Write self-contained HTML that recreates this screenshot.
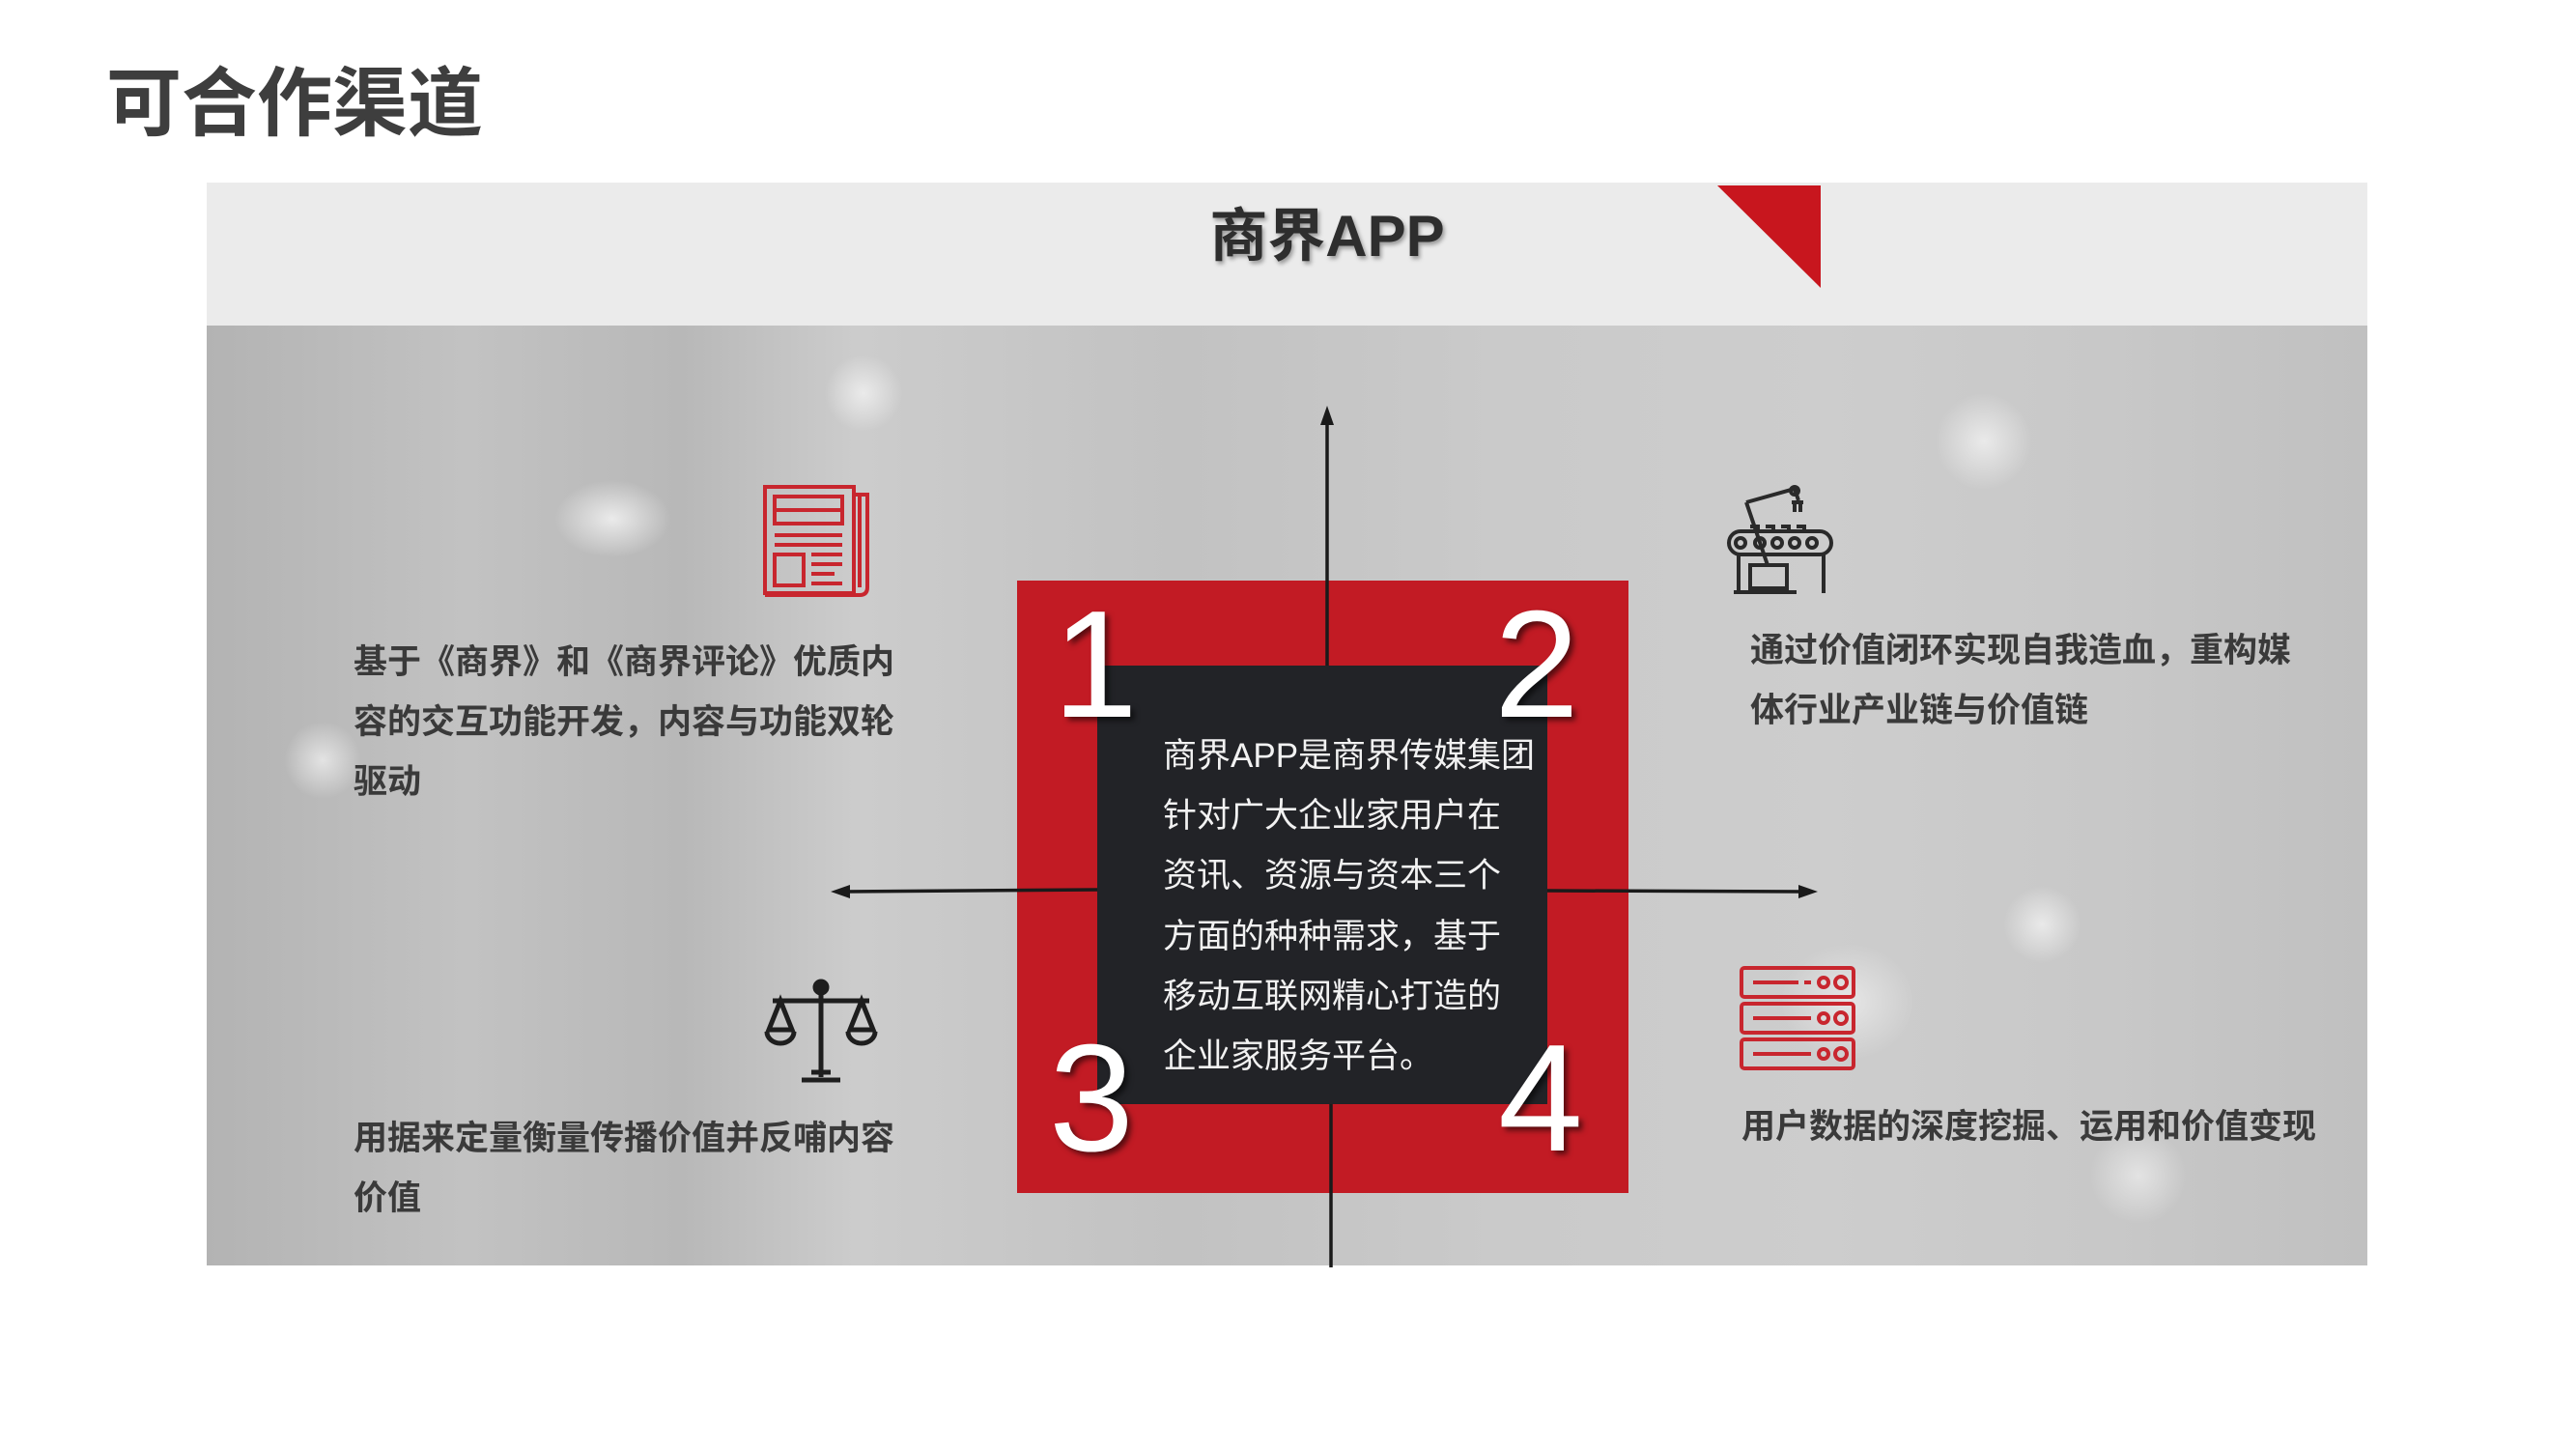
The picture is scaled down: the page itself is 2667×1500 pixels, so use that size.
<!DOCTYPE html>
<html><head><meta charset="utf-8"><style>
*{margin:0;padding:0;box-sizing:border-box}
body{width:2667px;height:1500px;background:#fff;position:relative;overflow:hidden;font-family:"Liberation Sans","Noto Sans CJK SC",sans-serif}
.a{position:absolute}
.title{left:110px;top:68px;font-size:78px;font-weight:bold;color:#3e3e3e;line-height:1}
.panel{left:214px;top:189px;width:2237px;height:1121px;overflow:hidden;background:#c4c4c4}
.hdr{left:214px;top:189px;width:2237px;height:148px;background:#ebebeb}
.bg{left:0;top:148px;width:2237px;height:973px;
background:
radial-gradient(ellipse 60px 40px at 420px 200px,rgba(255,255,255,.7),transparent),
radial-gradient(ellipse 40px 40px at 680px 70px,rgba(255,255,255,.6),transparent),
radial-gradient(ellipse 50px 50px at 1840px 120px,rgba(255,255,255,.6),transparent),
radial-gradient(ellipse 40px 40px at 1900px 620px,rgba(255,255,255,.6),transparent),
radial-gradient(ellipse 70px 60px at 1700px 700px,rgba(255,255,255,.5),transparent),
radial-gradient(ellipse 40px 40px at 120px 450px,rgba(255,255,255,.6),transparent),
radial-gradient(ellipse 50px 50px at 2000px 880px,rgba(255,255,255,.5),transparent),
linear-gradient(90deg,#b3b3b3 0,#c2c2c2 12%,#b8b8b8 22%,#cccccc 30%,#c2c2c2 45%,#cacaca 60%,#cdcdcd 75%,#c8c8c8 88%,#c0c0c0 100%);}
.lt{font-size:35px;font-weight:bold;color:#3a3a3a;line-height:62px;white-space:nowrap}
.num{font-size:158px;color:#fff;line-height:1;text-shadow:4px 4px 6px rgba(0,0,0,.55)}
.ct{left:1204px;top:752px;font-size:35px;color:#f2f2f2;line-height:62.2px;white-space:nowrap}
</style></head><body>
<div class="a title">可合作渠道</div>
<div class="a panel"><div class="a bg"></div></div>
<div class="a hdr"></div>
<div class="a" style="left:1214px;top:196px;width:320px;text-align:center;font-size:60px;font-weight:bold;color:#2e2e2e;text-shadow:2px 3px 4px rgba(0,0,0,.35)">商界APP</div>
<svg class="a" style="left:0;top:0" width="2667" height="1500">
<polygon points="1778,192 1885,192 1885,298" fill="#c8161e"/>
<rect x="1053" y="601" width="633" height="634" fill="#c21b24"/>
<rect x="1136" y="689" width="466" height="454" fill="#222327"/>
<g stroke="#1a1a1a" stroke-width="3.5" fill="#1a1a1a">
<line x1="1374" y1="432" x2="1374" y2="689"/>
<line x1="1378" y1="1143" x2="1378" y2="1312"/>
<polygon points="1374,420 1367,440 1381,440" stroke="none"/>
<line x1="872" y1="923" x2="1136" y2="921"/>
<polygon points="860,923 880,916 880,930" stroke="none"/>
<line x1="1602" y1="922" x2="1868" y2="923"/>
<polygon points="1882,923 1862,916 1862,930" stroke="none"/>
</g>
<g fill="none" stroke="#c8262e" stroke-width="4">
<rect x="792" y="504" width="92" height="110"/>
<path d="M884,512 h14 v96 q0,8 -8,8 h-98"/><line x1="890" y1="512" x2="890" y2="608"/>
<rect x="802" y="514" width="70" height="28"/><line x1="802" y1="528" x2="872" y2="528"/>
<line x1="802" y1="554" x2="872" y2="554"/><line x1="802" y1="564" x2="872" y2="564"/>
<rect x="802" y="574" width="30" height="32"/>
<line x1="840" y1="574" x2="872" y2="574"/><line x1="840" y1="584" x2="872" y2="584"/><line x1="840" y1="594" x2="864" y2="594"/><line x1="840" y1="604" x2="872" y2="604"/>
</g>
<g fill="none" stroke="#2a2a2a" stroke-width="4">
<rect x="1790" y="550" width="106" height="24" rx="12"/>
<circle cx="1802" cy="562" r="5"/><circle cx="1822" cy="562" r="5"/><circle cx="1840" cy="562" r="5"/><circle cx="1858" cy="562" r="5"/><circle cx="1876" cy="562" r="5"/>
<line x1="1808" y1="520" x2="1830" y2="585"/><path d="M1808,520 L1858,506 L1862,518"/>
<circle cx="1858" cy="508" r="4"/><path d="M1855,520 h12 M1858,520 v10 M1864,520 v10"/>
<rect x="1812" y="585" width="38" height="24"/>
<line x1="1800" y1="574" x2="1800" y2="614"/><line x1="1888" y1="574" x2="1888" y2="614"/>
<line x1="1795" y1="613" x2="1860" y2="613"/>
<path d="M1812,545 h8 v5 M1828,545 h8 v5 M1844,545 h8 v5 M1860,545 h8 v5"/>
</g>
<g fill="none" stroke="#1e1e1e" stroke-width="5">
<line x1="850" y1="1022" x2="850" y2="1115"/><line x1="800" y1="1036" x2="900" y2="1036"/>
<circle cx="850" cy="1022" r="6" fill="#1e1e1e"/>
<path d="M830,1118 h40 M840,1110 h20"/>
<path d="M808,1036 l-12,30 h24 z M892,1036 l-12,30 h24 z"/>
<path d="M794,1068 a14,12 0 0 0 28,0 M878,1068 a14,12 0 0 0 28,0"/>
</g>
<g fill="none" stroke="#c8262e" stroke-width="4">
<rect x="1803" y="1002" width="116" height="30" rx="3"/><rect x="1803" y="1039" width="116" height="30" rx="3"/><rect x="1803" y="1076" width="116" height="30" rx="3"/>
<line x1="1815" y1="1017" x2="1862" y2="1017"/><line x1="1868" y1="1017" x2="1875" y2="1017"/><circle cx="1888" cy="1017" r="5"/><circle cx="1906" cy="1017" r="6"/>
<line x1="1815" y1="1054" x2="1875" y2="1054"/><circle cx="1888" cy="1054" r="5"/><circle cx="1906" cy="1054" r="6"/>
<line x1="1815" y1="1091" x2="1875" y2="1091"/><circle cx="1888" cy="1091" r="5"/><circle cx="1906" cy="1091" r="6"/>
</g>
</svg>
<div class="a num" style="left:1090px;top:609px">1</div>
<div class="a num" style="left:1547px;top:609px">2</div>
<div class="a num" style="left:1086px;top:1058px">3</div>
<div class="a num" style="left:1551px;top:1058px">4</div>
<div class="a ct">商界APP是商界传媒集团<br>针对广大企业家用户在<br>资讯、资源与资本三个<br>方面的种种需求，基于<br>移动互联网精心打造的<br>企业家服务平台。</div>
<div class="a lt" style="left:366px;top:655px">基于《商界》和《商界评论》优质内<br>容的交互功能开发，内容与功能双轮<br>驱动</div>
<div class="a lt" style="left:366px;top:1148px">用据来定量衡量传播价值并反哺内容<br>价值</div>
<div class="a lt" style="left:1812px;top:643px">通过价值闭环实现自我造血，重构媒<br>体行业产业链与价值链</div>
<div class="a lt" style="left:1803px;top:1136px">用户数据的深度挖掘、运用和价值变现</div>
</body></html>
